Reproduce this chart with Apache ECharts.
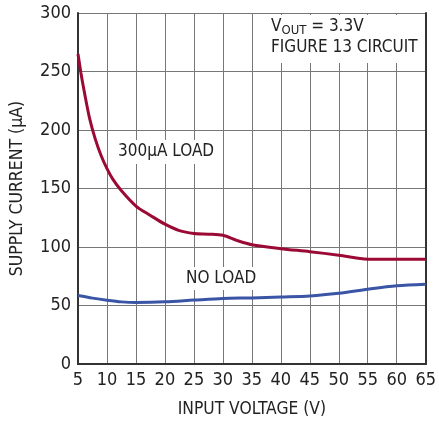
<!DOCTYPE html>
<html>
<head>
<meta charset="utf-8">
<script src="https://cdn.jsdelivr.net/npm/echarts@6/dist/echarts.min.js"></script>
<style>
html,body{margin:0;padding:0;background:#fff;}
#c{width:439px;height:423px;}
</style>
</head>
<body>
<div id="c"></div>
<script>
// ---- data ----
var loadX = [5, 5.5, 6, 7, 8, 9, 10, 11, 12.5, 15, 17.5, 20, 22.5, 25, 27.5, 30, 32.5, 35, 40, 45, 50, 55, 60, 65];
var loadY = [265, 249, 235, 210, 192, 178, 167, 158, 148, 135, 127, 119.5, 114, 111.6, 111, 110, 105.5, 102, 98.6, 96, 93, 89.5, 89.5, 89.5];
var noLoadX = [5, 7.5, 10, 12.5, 15, 20, 25, 30, 35, 40, 45, 50, 55, 60, 65];
var noLoadY = [58.5, 56.3, 54.5, 53.1, 52.6, 53.1, 54.6, 56, 56.5, 57.3, 58.2, 60.5, 63.9, 66.8, 68.2];
var xTicks = [5, 10, 15, 20, 25, 30, 35, 40, 45, 50, 55, 60, 65];
var yTicks = [0, 50, 100, 150, 200, 250, 300];

function pairs(xs, ys) { return xs.map(function (x, i) { return [x, ys[i]]; }); }

var FONT = "'DejaVu Sans Condensed', 'Liberation Sans Narrow', 'Liberation Sans', sans-serif";
var frameAxis = {axisLine: {show: true, lineStyle: {color: '#333', width: 2}}, axisTick: {show: false},
                 axisLabel: {show: false}, splitLine: {show: false}};
var chart = echarts.init(document.getElementById('c'), null, {renderer: 'canvas'});
chart.setOption({
  animation: false,
  backgroundColor: '#fff',
  grid: {left: 77, right: 10, top: 13, bottom: 58, containLabel: false},
  xAxis: [{
    type: 'value', min: xTicks[0], max: xTicks[xTicks.length - 1], interval: 5,
    name: 'INPUT VOLTAGE (V)', nameLocation: 'middle', nameGap: 37,
    nameTextStyle: {fontFamily: FONT, fontSize: 17.3, color: '#222'},
    axisLine: {show: true, onZero: false, lineStyle: {color: '#333', width: 2}},
    axisTick: {show: false},
    axisLabel: {fontFamily: FONT, fontSize: 18, color: '#222', margin: 7},
    splitLine: {show: true, lineStyle: {color: '#777', width: 1}}
  }, Object.assign({type: 'value', position: 'top', min: xTicks[0], max: xTicks[xTicks.length - 1], interval: 5}, frameAxis)],
  yAxis: [{
    type: 'value', min: yTicks[0], max: yTicks[yTicks.length - 1], interval: 50,
    name: 'SUPPLY CURRENT (\u00b5A)', nameLocation: 'middle', nameGap: 52,
    nameTextStyle: {fontFamily: FONT, fontSize: 17.5, color: '#222'},
    axisLine: {show: true, lineStyle: {color: '#333', width: 2}},
    axisTick: {show: false},
    axisLabel: {fontFamily: FONT, fontSize: 18, color: '#222', margin: 7},
    splitLine: {show: true, lineStyle: {color: '#777', width: 1}}
  }, Object.assign({type: 'value', position: 'right', min: yTicks[0], max: yTicks[yTicks.length - 1], interval: 50}, frameAxis)],
  series: [
    {type: 'line', data: pairs(loadX, loadY), smooth: 0.3, showSymbol: false,
     lineStyle: {color: '#9b0a35', width: 3}, z: 3},
    {type: 'line', data: pairs(noLoadX, noLoadY), smooth: 0.3, showSymbol: false,
     lineStyle: {color: '#3b55a6', width: 3}, z: 3}
  ],
  graphic: [
    {type: 'rect', shape: {x: 262, y: 15, width: 163, height: 48}, style: {fill: '#fff'}, z: 1},
    {type: 'rect', shape: {x: 116, y: 140, width: 102, height: 24}, style: {fill: '#fff'}, z: 1},
    {type: 'rect', shape: {x: 184, y: 267, width: 74, height: 23}, style: {fill: '#fff'}, z: 1},
    {type: 'text', x: 271, y: 18, z: 2, style: {
      text: '{a|V}{s|OUT}{a| = 3.3V}', fill: '#222', fontFamily: FONT, fontSize: 17,
      rich: {a: {fontFamily: FONT, fontSize: 17, fill: '#222', verticalAlign: 'top'},
             s: {fontFamily: FONT, fontSize: 13, fill: '#222', padding: [6, 0, 0, 0], verticalAlign: 'top'}}}},
    {type: 'text', x: 271, y: 39, z: 2, style: {text: 'FIGURE 13 CIRCUIT', fill: '#222', fontFamily: FONT, fontSize: 17}},
    {type: 'text', x: 118, y: 143, z: 2, style: {text: '300\u00b5A LOAD', fill: '#222', fontFamily: FONT, fontSize: 17}},
    {type: 'text', x: 186, y: 270, z: 2, style: {text: 'NO LOAD', fill: '#222', fontFamily: FONT, fontSize: 17}}
  ]
});
</script>
</body>
</html>
